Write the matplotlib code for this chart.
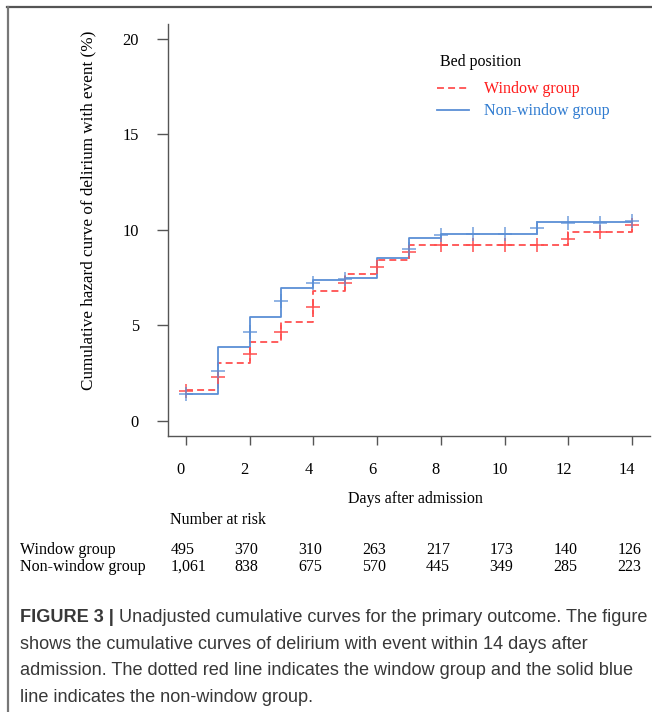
import matplotlib
matplotlib.use("Agg")
import matplotlib.pyplot as plt
import matplotlib.transforms as mtransforms
from matplotlib.lines import Line2D

plt.rcParams['font.family'] = ['Liberation Serif', 'DejaVu Serif']
plt.rcParams['lines.scale_dashes'] = False

# Cumulative hazard steps (%)
window_times = [0, 1, 2, 3, 4, 5, 6, 7, 12, 14]
window_cum = [1.6, 3.0, 4.1, 5.2, 6.8, 7.7, 8.4, 9.2, 9.9, 10.2]
nonwindow_times = [0, 1, 2, 3, 4, 5, 6, 7, 8, 11, 14]
nonwindow_cum = [1.4, 3.85, 5.45, 6.95, 7.35, 7.5, 8.55, 9.6, 9.8, 10.4, 10.4]

# Censoring marks
window_mark_t = [0, 1, 2, 3, 4, 5, 6, 7, 8, 9, 10, 11, 12, 13, 14]
window_mark_v = [1.57, 2.31, 3.5, 4.64, 5.95, 7.23, 8.06, 8.84, 9.22, 9.22, 9.22, 9.22, 9.54, 9.87, 10.24]
nonwindow_mark_t = [0, 1, 2, 3, 4, 5, 7, 8, 9, 10, 11, 12, 13, 14]
nonwindow_mark_v = [1.4, 2.62, 4.67, 6.25, 7.23, 7.44, 9.01, 9.75, 9.8, 9.8, 10.1, 10.38, 10.38, 10.45]

risk_days = [0, 2, 4, 6, 8, 10, 12, 14]
risk_window = ['495', '370', '310', '263', '217', '173', '140', '126']
risk_nonwindow = ['1,061', '838', '675', '570', '445', '349', '285', '223']

RED = '#ff5050'
BLUE = '#5a8fd6'
AXC = '#555555'

W, H = 652, 712
fig = plt.figure(figsize=(W / 100, H / 100), dpi=100)

def px(x0, y0, x1, y1):
    # pixel box (top-left origin) -> figure fraction rect
    return [x0 / W, 1 - y1 / H, (x1 - x0) / W, (y1 - y0) / H]

ax = fig.add_axes(px(168, 23.8, 650, 436))
AW, AH = 482, 412.2

ax.step(window_times, window_cum, where='post', color=RED, lw=1.3,
        dashes=(5, 3), label='Window group')
ax.step(nonwindow_times, nonwindow_cum, where='post', color=BLUE, lw=1.3,
        label='Non-window group')
ax.plot(window_mark_t, window_mark_v, ls='none', marker='+', ms=9.5,
        mew=1.1, color=RED)
ax.plot(nonwindow_mark_t, nonwindow_mark_v, ls='none', marker='+', ms=9.5,
        mew=1.1, color=BLUE, alpha=0.85)

ax.set_xlim(-0.56, 14.56)
ax.set_ylim(-0.8, 20.8)
ax.set_xticks(range(0, 15, 2))
ax.set_yticks([0, 5, 10, 15, 20])

for s in ['top', 'right']:
    ax.spines[s].set_visible(False)
for s in ['left', 'bottom']:
    ax.spines[s].set_color(AXC)
    ax.spines[s].set_linewidth(1.0)

ax.tick_params(axis='x', length=6.5, width=1, color=AXC, pad=12,
               labelsize=11.8)
ax.tick_params(axis='y', length=8, width=1, color=AXC, pad=13,
               labelsize=11.8)
shift = mtransforms.ScaledTranslation(-5 / 100, 0, fig.dpi_scale_trans)
for lab in ax.get_xticklabels():
    lab.set_transform(lab.get_transform() + shift)

ax.set_ylabel('Cumulative hazard curve of delirium with event (%)',
              fontsize=12.3)
ax.yaxis.set_label_coords((96 - 168) / AW, (436 - 210) / AH)
ax.set_xlabel('Days after admission', fontsize=11.5)
ax.xaxis.set_label_coords((415 - 168) / AW, (436 - 491) / AH)

# Legend
ax.text((440 - 168) / AW, (436 - 62) / AH, 'Bed position', transform=ax.transAxes,
        fontsize=11.5, va='center', ha='left')
leg = ax.legend(loc='upper left', bbox_to_anchor=((431 - 168) / AW, (436 - 75) / AH),
                frameon=False, fontsize=11.5, handlelength=2.0,
                handletextpad=0.9, labelspacing=0.38, borderaxespad=0)
leg.get_texts()[0].set_color('#ff1a1a')
leg.get_texts()[1].set_color('#2f7bd0')

# Number at risk table
blend = mtransforms.blended_transform_factory(ax.transData, fig.transFigure)
fig.text(170 / W, 1 - 520 / H, 'Number at risk', fontsize=11.5, va='center')
fig.text(20 / W, 1 - 550 / H, 'Window group', fontsize=11.5, va='center')
fig.text(20 / W, 1 - 567 / H, 'Non-window group', fontsize=11.5, va='center')
for d, a, b in zip(risk_days, risk_window, risk_nonwindow):
    ax.text(d - 0.47, 1 - 550 / H, a, transform=blend, fontsize=11.5,
            va='center', ha='left', clip_on=False)
    ax.text(d - 0.47, 1 - 567 / H, b, transform=blend, fontsize=11.5,
            va='center', ha='left', clip_on=False)

# Caption
cap = dict(family='Liberation Sans', fontsize=13.1, color='#383838', va='baseline')
lines = ['Unadjusted cumulative curves for the primary outcome. The figure',
         'shows the cumulative curves of delirium with event within 14 days after',
         'admission. The dotted red line indicates the window group and the solid blue',
         'line indicates the non-window group.']
base_y = [622, 649, 675, 702]
head = fig.text(20 / W, 1 - base_y[0] / H, 'FIGURE 3 | ', weight='bold', **cap)
fig.canvas.draw()
x_after = head.get_window_extent().x1 / W
fig.text(x_after, 1 - base_y[0] / H, lines[0], **cap)
for txt, yb in zip(lines[1:], base_y[1:]):
    fig.text(20 / W, 1 - yb / H, txt, **cap)

# Outer frame (top and left edges)
fig.add_artist(Line2D([7 / W, 1], [1 - 6.5 / H, 1 - 6.5 / H], transform=fig.transFigure,
                      color='#555555', lw=1.6))
fig.add_artist(Line2D([7.5 / W, 7.5 / W], [0, 1 - 6.5 / H], transform=fig.transFigure,
                      color='#777777', lw=1.6))

fig.savefig('out.png', dpi=100)
